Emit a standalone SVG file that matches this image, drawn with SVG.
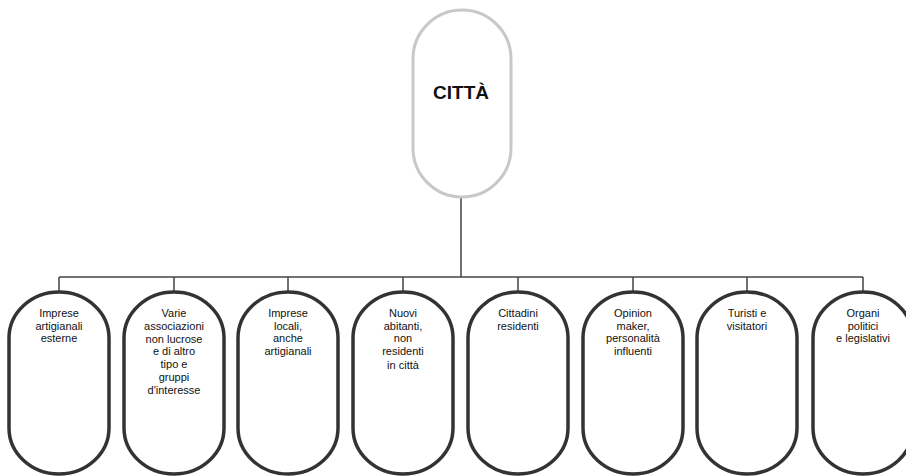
<svg xmlns="http://www.w3.org/2000/svg" width="906" height="476" viewBox="0 0 906 476">
<style>
.n{fill:#fff;stroke:#333;stroke-width:3.5}
.t{font-family:"Liberation Sans",Arial,sans-serif;font-size:11px;fill:#111;text-anchor:middle}
.c{fill:none;stroke:#444;stroke-width:1.5}
</style>
<rect width="906" height="476" fill="#fff"/>
<g id="connectors">
<path class="c" d="M461 197V277M59 277H863M59 277V292M174 277V292M288 277V292M403 277V292M518 277V292M633 277V292M747 277V292M863 277V292"/>
</g>
<g id="citta">
<rect x="413" y="10" width="98" height="187" rx="49" ry="49" fill="#fff" stroke="#c8c8c8" stroke-width="3"/>
<text x="461" y="99" font-family="Liberation Sans,Arial,sans-serif" font-size="19" font-weight="bold" text-anchor="middle" fill="#111">CITTÀ</text>
</g>
<g id="n1"><rect class="n" x="9" y="292" width="100" height="182" rx="50" ry="46"/>
<text class="t" y="317"><tspan x="59">Imprese</tspan><tspan x="59" dy="12.5">artigianali</tspan><tspan x="59" dy="12.5">esterne</tspan></text></g>
<g id="n2"><rect class="n" x="124" y="292" width="100" height="182" rx="50" ry="46"/>
<text class="t" y="317"><tspan x="174">Varie</tspan><tspan x="174" dy="12.8">associazioni</tspan><tspan x="174" dy="12.8">non lucrose</tspan><tspan x="174" dy="12.8">e di altro</tspan><tspan x="174" dy="12.8">tipo  e</tspan><tspan x="174" dy="12.8">gruppi</tspan><tspan x="174" dy="12.8">d'interesse</tspan></text></g>
<g id="n3"><rect class="n" x="238" y="292" width="100" height="182" rx="50" ry="46"/>
<text class="t" y="317"><tspan x="288">Imprese</tspan><tspan x="288" dy="12.5">locali,</tspan><tspan x="288" dy="12.5">anche</tspan><tspan x="288" dy="12.5">artigianali</tspan></text></g>
<g id="n4"><rect class="n" x="353" y="292" width="100" height="182" rx="50" ry="46"/>
<text class="t" y="317"><tspan x="403">Nuovi</tspan><tspan x="403" dy="12.5">abitanti,</tspan><tspan x="403" dy="12.5">non</tspan><tspan x="403" dy="12.5">residenti</tspan><tspan x="403" dy="14">in città</tspan></text></g>
<g id="n5"><rect class="n" x="468" y="292" width="100" height="182" rx="50" ry="46"/>
<text class="t" y="317"><tspan x="518">Cittadini</tspan><tspan x="518" dy="12.5">residenti</tspan></text></g>
<g id="n6"><rect class="n" x="583" y="292" width="100" height="182" rx="50" ry="46"/>
<text class="t" y="317"><tspan x="633">Opinion</tspan><tspan x="633" dy="12.5">maker,</tspan><tspan x="633" dy="12.5">personalità</tspan><tspan x="633" dy="12.5">influenti</tspan></text></g>
<g id="n7"><rect class="n" x="697" y="292" width="100" height="182" rx="50" ry="46"/>
<text class="t" y="317"><tspan x="747">Turisti e</tspan><tspan x="747" dy="12.5">visitatori</tspan></text></g>
<g id="n8"><rect class="n" x="813" y="292" width="100" height="182" rx="50" ry="46"/>
<text class="t" y="317"><tspan x="863">Organi</tspan><tspan x="863" dy="12.5">politici</tspan><tspan x="863" dy="12.5">e legislativi</tspan></text></g>
</svg>
